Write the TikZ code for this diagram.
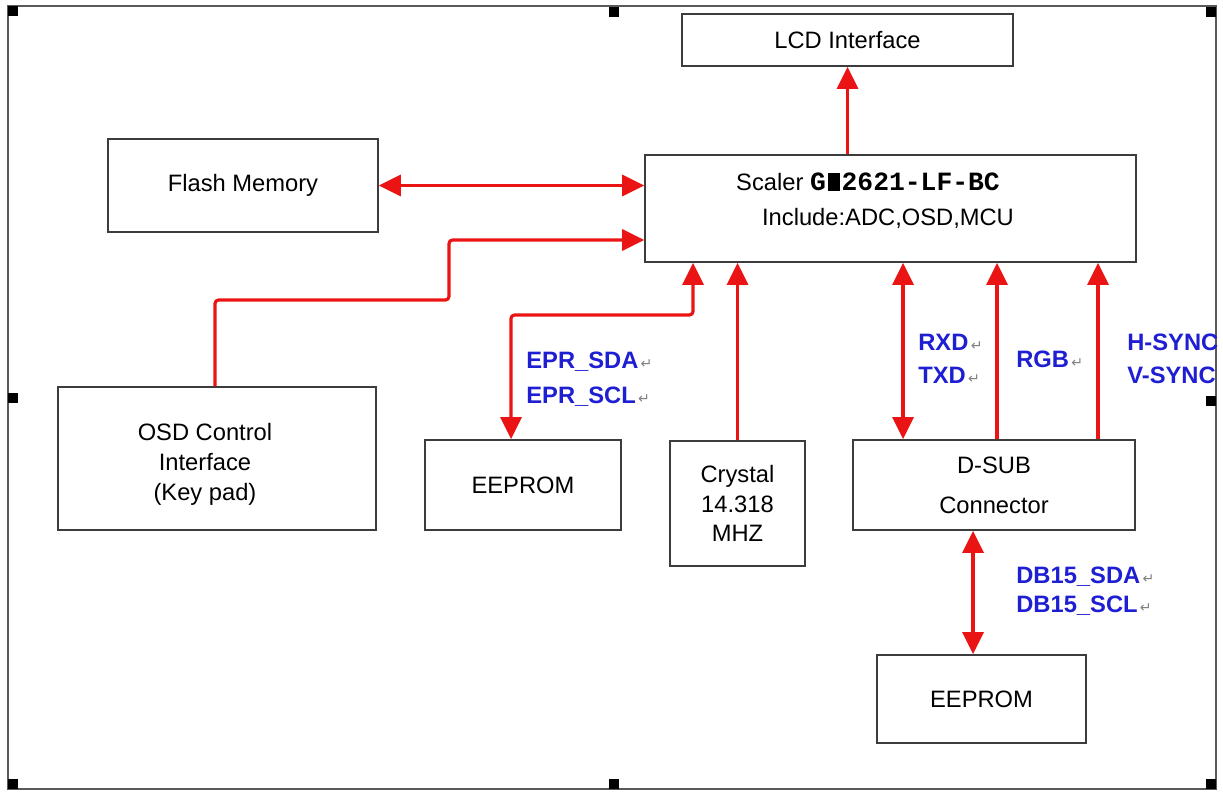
\documentclass[tikz,border=0pt]{standalone}
\usepackage{fontspec}
\setmainfont{Liberation Sans}
\newfontfamily\chipfont{Liberation Mono}
\newfontfamily\symfont{DejaVu Sans}
\usetikzlibrary{arrows.meta,positioning,calc}
\definecolor{linkred}{RGB}{235,20,20}
\definecolor{sigblue}{RGB}{30,30,210}
\definecolor{boxgray}{RGB}{60,60,60}
\newcommand{\retmark}{{\symfont\mdseries\color{gray}\footnotesize\,↵}}

\begin{document}
\begin{tikzpicture}[x=0.02cm, y=-0.02cm,
    blk/.style={draw=boxgray, line width=1pt, fill=white,
        font=\fontsize{13.5}{17}\selectfont, align=center, inner sep=0pt},
    txt/.style={font=\fontsize{13.5}{17}\selectfont, align=center, inner sep=0pt},
    arr/.style={-{Triangle[length=0.44cm,width=0.42cm]}, draw=linkred, line width=1.8pt},
    dbl/.style={{Triangle[length=0.44cm,width=0.42cm]}-{Triangle[length=0.44cm,width=0.42cm]},
        draw=linkred, line width=1.8pt},
    sig/.style={font=\fontsize{13.5}{16}\selectfont\bfseries, text=sigblue,
        anchor=base west, inner sep=0pt},
    handle/.style={fill=black}
]
    \useasboundingbox (0,0) rectangle (1223,791);

    % Outer frame with selection handles
    \draw[draw=black!65, line width=1.2pt] (8,6) rectangle (1216,789);
    \foreach \hx/\hy in {8/6, 609/7, 1206/7, 8/393, 1206/396, 8/779, 609/779, 1206/779}
        \fill[handle] (\hx,\hy) rectangle ++(10,10);

    % Scaler and display side
    \node[blk, minimum width=6.62cm, minimum height=1.04cm] (lcd) at (847.5,40) {LCD Interface};
    \node[blk, minimum width=9.82cm, minimum height=2.14cm] (scaler) at (890.5,208.5) {};
    \node[txt] (chip) at (868,182) {Scaler {\chipfont\bfseries\fontsize{15}{15}\selectfont
        G\kern0.07em\rule{0.46em}{0.68em}\kern0.07em2621-LF-BC}};
    \node[txt] (feat) at (888,218) {Include:ADC,OSD,MCU};

    % Peripherals
    \node[blk, minimum width=5.4cm, minimum height=1.86cm] (flash) at (243,185.5) {Flash Memory};
    \node[blk, minimum width=6.36cm, minimum height=2.86cm] (osd) at (217,458.5) {};
    \node[txt] (osdtxt) at (205,464) {OSD Control\\Interface\\(Key pad)};
    \node[blk, minimum width=3.92cm, minimum height=1.8cm] (eepA) at (523,485) {EEPROM};
    \node[blk, minimum width=2.7cm, minimum height=2.5cm] (xtal) at (737.5,503.5) {Crystal\\14.318\\MHZ};
    \node[blk, minimum width=5.64cm, minimum height=1.8cm,
        font=\fontsize{13.5}{22.7}\selectfont] (dsub) at (994,485) {D-SUB\\Connector};
    \node[blk, minimum width=4.18cm, minimum height=1.76cm] (eepB) at (981.5,699) {EEPROM};

    % Bend points and bus positions
    \coordinate (oA) at (215,300);
    \coordinate (oB) at (449,240);
    \coordinate (eA) at (693,315);
    \coordinate (eB) at (511,315);
    \coordinate (rx) at (903,350);
    \coordinate (rgb) at (997,350);
    \coordinate (hs) at (1098,350);
    \coordinate (db) at (973,600);

    % Links
    \draw[arr] (scaler.north -| lcd.south) -- (lcd.south);
    \draw[dbl] (flash.east) -- (flash.east -| scaler.west);
    \draw[arr, rounded corners=2pt] (osd.north -| oA) -- (oA) -| (oB) -- (scaler.west |- oB);
    \draw[dbl, rounded corners=2pt] (scaler.south -| eA) -- (eA) -- (eB) -- (eepA.north -| eB);
    \draw[arr] (xtal.north) -- (xtal.north |- scaler.south);
    \draw[dbl] (dsub.north -| rx) -- (scaler.south -| rx);
    \draw[arr] (dsub.north -| rgb) -- (scaler.south -| rgb);
    \draw[arr] (dsub.north -| hs) -- (scaler.south -| hs);
    \draw[dbl] (dsub.south -| db) -- (eepB.north -| db);

    % Signal names
    \node[sig] (eprsda) at (526,368) {EPR\_SDA\retmark};
    \node[sig] (eprscl) at (526,403) {EPR\_SCL\retmark};
    \node[sig] (rxd) at (918,350) {RXD\retmark};
    \node[sig] (txd) at (918,383) {TXD\retmark};
    \node[sig] (rgbsig) at (1016,367) {RGB\retmark};
    \node[sig] (hsync) at (1127,350) {H-SYNC};
    \node[sig] (vsync) at (1127,383) {V-SYNC};
    \node[sig] (dbsda) at (1016,583) {DB15\_SDA\retmark};
    \node[sig] (dbscl) at (1016,612) {DB15\_SCL\retmark};
\end{tikzpicture}
\end{document}
